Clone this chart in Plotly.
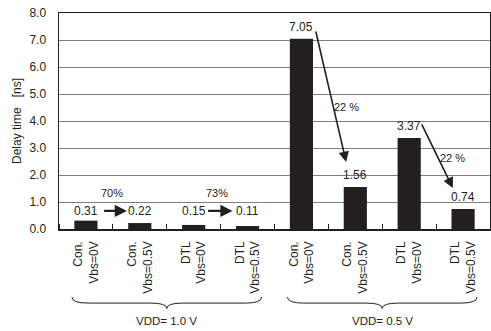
import plotly.graph_objects as go

categories = ["Con.<br>Vbs=0V", "Con.<br>Vbs=0.5V", "DTL<br>Vbs=0V", "DTL<br>Vbs=0.5V",
              "Con.<br>Vbs=0V", "Con.<br>Vbs=0.5V", "DTL<br>Vbs=0V", "DTL<br>Vbs=0.5V"]
delay_ns = [0.31, 0.22, 0.15, 0.11, 7.05, 1.56, 3.37, 0.74]
value_text = ["0.31", "0.22", "0.15", "0.11", "7.05", "1.56", "3.37", "0.74"]
groups = ["VDD= 1.0 V", "VDD= 0.5 V"]
y_ticks = [0, 1, 2, 3, 4, 5, 6, 7, 8]
y_tick_text = ["0.0", "1.0", "2.0", "3.0", "4.0", "5.0", "6.0", "7.0", "8.0"]
ratio_text = ["70%", "73%", "22 %", "22 %"]

FONT = "Liberation Sans, Arial, sans-serif"
INK = "#231f20"
xs = list(range(len(categories)))

fig = go.Figure()
fig.add_trace(go.Bar(x=xs, y=delay_ns, width=0.43, marker=dict(color=INK, line=dict(width=0)),
                     hoverinfo="skip"))

ann = []
# value labels
for i, (v, t) in enumerate(zip(delay_ns, value_text)):
    ly = v + 0.45 if v > 0.5 else 0.67
    ann.append(dict(x=i, y=ly, xref="x", yref="y", text=t, showarrow=False,
                    yanchor="middle", xanchor="center",
                    font=dict(family=FONT, size=12, color=INK)))

# arrows (tail -> head), in data coords
arrows = [
    ((0.31, 0.67), (0.76, 0.67), 2.2),
    ((2.24, 0.67), (2.72, 0.67), 2.2),
    ((4.26, 7.37), (4.83, 2.48), 1.6),
    ((6.22, 3.93), (6.81, 1.52), 1.6),
]
for (tx, ty), (hx, hy), w in arrows:
    ann.append(dict(x=hx, y=hy, ax=tx, ay=ty, xref="x", yref="y", axref="x", ayref="y",
                    text="", showarrow=True, arrowhead=2, arrowsize=1.1 if w > 2 else 1.3,
                    arrowwidth=w, arrowcolor=INK, standoff=0, startstandoff=0))

ratio_pos = [(0.48, 1.33), (2.44, 1.33), (4.83, 4.52), (6.81, 2.63)]
for (px, py), t in zip(ratio_pos, ratio_text):
    ann.append(dict(x=px, y=py, xref="x", yref="y", text=t, showarrow=False,
                    yanchor="middle", xanchor="center",
                    font=dict(family=FONT, size=11, color=INK)))

# braces and group labels
shapes = []
y_top, y_mid, y_tip = -0.315, -0.343, -0.368
for g, name in enumerate(groups):
    c = g * 4 + 1.5
    xl, xr = c - 1.76, c + 1.76
    d = 0.3
    path = (f"M {xl},{y_top} Q {xl},{y_mid} {xl+d},{y_mid} "
            f"L {c-d},{y_mid} Q {c},{y_mid} {c},{y_tip} "
            f"Q {c},{y_mid} {c+d},{y_mid} L {xr-d},{y_mid} Q {xr},{y_mid} {xr},{y_top}")
    shapes.append(dict(type="path", path=path, xref="x", yref="paper",
                       line=dict(color=INK, width=1)))
    ann.append(dict(x=c, y=-0.426, xref="x", yref="paper", text=name, showarrow=False,
                    yanchor="middle", xanchor="center",
                    font=dict(family=FONT, size=11.5, color=INK)))

fig.update_layout(
    width=491, height=331,
    margin=dict(l=59, r=1, t=13, b=102, autoexpand=False),
    paper_bgcolor="white", plot_bgcolor="white",
    showlegend=False,
    font=dict(family=FONT, size=12, color=INK),
    annotations=ann, shapes=shapes,
    xaxis=dict(range=[-0.5, 7.5], tickmode="array", tickvals=xs, ticktext=categories,
               tickangle=-90, ticks="", showgrid=False, zeroline=False, automargin=False,
               showline=True, linecolor=INK, linewidth=1.5, mirror=True,
               tickfont=dict(family=FONT, size=12, color=INK), ticklabelstandoff=6,
               minor=dict(tickmode="linear", tick0=0.5, dtick=1, ticks="inside",
                          ticklen=5, tickcolor=INK, tickwidth=1, showgrid=False)),
    yaxis=dict(range=[0, 8], tickmode="array", tickvals=y_ticks, ticktext=y_tick_text,
               showgrid=True, gridcolor="#7f7f7f", gridwidth=1, zeroline=False, automargin=False,
               showline=True, linecolor=INK, linewidth=1.5, mirror=True, ticks="",
               tickfont=dict(family=FONT, size=12, color=INK), ticklabelstandoff=9,
               title=dict(text="Delay time   [ns]", standoff=5,
                          font=dict(family=FONT, size=12, color=INK))),
)

fig.write_html("out.html", config={"displayModeBar": False, "staticPlot": True},
               post_script="document.body.style.margin='0';")
